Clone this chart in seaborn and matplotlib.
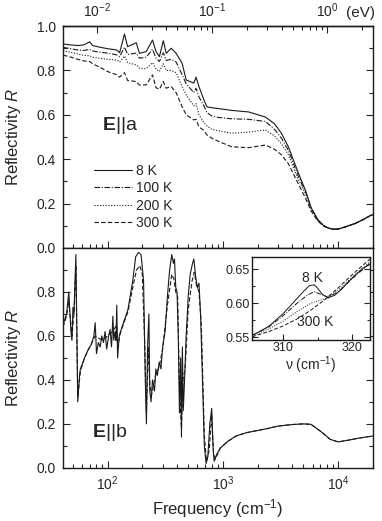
import numpy as np
import matplotlib
matplotlib.use("Agg")
import matplotlib.pyplot as plt
import seaborn as sns
from matplotlib.ticker import LogLocator, MultipleLocator, NullFormatter, FixedLocator

# --- data: E||a (top panel) ---
freq_a = [41, 48, 55, 62, 70, 74, 85, 100, 120, 127, 140, 149, 177, 189, 216, 245,
          263, 281, 304, 322, 356, 393, 443, 480, 560, 585, 620, 685, 726, 800, 920,
          1190, 1670, 2340, 2800, 3220, 3700, 4500, 5200, 5850, 6700, 7500, 8200,
          9000, 10000, 11500, 14000, 16500, 19000, 20000]
r_a_8K = [0.919, 0.915, 0.912, 0.915, 0.929, 0.912, 0.905, 0.898, 0.892, 0.880, 0.964,
          0.907, 0.925, 0.877, 0.885, 0.937, 0.885, 0.862, 0.934, 0.877, 0.900, 0.877,
          0.832, 0.757, 0.743, 0.770, 0.727, 0.667, 0.636, 0.632, 0.628, 0.620, 0.613,
          0.590, 0.560, 0.517, 0.456, 0.340, 0.260, 0.180, 0.126, 0.100, 0.090, 0.085,
          0.085, 0.095, 0.110, 0.128, 0.146, 0.150]
r_a_100K = [0.904, 0.898, 0.892, 0.890, 0.895, 0.888, 0.882, 0.878, 0.870, 0.862, 0.905,
            0.872, 0.878, 0.855, 0.860, 0.895, 0.855, 0.840, 0.880, 0.845, 0.850, 0.838,
            0.780, 0.740, 0.700, 0.720, 0.680, 0.640, 0.610, 0.595, 0.588, 0.582, 0.580,
            0.570, 0.535, 0.495, 0.440, 0.325, 0.255, 0.178, 0.125, 0.100, 0.090, 0.085,
            0.085, 0.095, 0.110, 0.128, 0.146, 0.150]
r_a_200K = [0.888, 0.882, 0.874, 0.868, 0.866, 0.860, 0.855, 0.850, 0.847, 0.838, 0.865,
            0.835, 0.825, 0.810, 0.808, 0.835, 0.805, 0.795, 0.830, 0.800, 0.800, 0.790,
            0.727, 0.690, 0.640, 0.650, 0.600, 0.565, 0.550, 0.535, 0.528, 0.517, 0.522,
            0.532, 0.505, 0.470, 0.420, 0.310, 0.245, 0.175, 0.124, 0.100, 0.090, 0.085,
            0.085, 0.095, 0.110, 0.128, 0.146, 0.150]
r_a_300K = [0.869, 0.860, 0.850, 0.843, 0.840, 0.830, 0.815, 0.795, 0.780, 0.770, 0.790,
            0.755, 0.750, 0.734, 0.735, 0.780, 0.722, 0.715, 0.750, 0.720, 0.727, 0.700,
            0.636, 0.600, 0.577, 0.580, 0.545, 0.530, 0.510, 0.495, 0.480, 0.456, 0.452,
            0.464, 0.445, 0.420, 0.380, 0.290, 0.225, 0.165, 0.120, 0.098, 0.090, 0.085,
            0.085, 0.095, 0.110, 0.128, 0.146, 0.150]

# --- data: E||b (bottom panel) ---
freq_b_8K = [41, 44, 46, 48, 49, 50, 51, 53, 55, 57, 58, 60, 63, 68, 72, 76, 78, 80, 83,
             86, 89, 92, 95, 98, 102, 105, 108, 111, 113, 116, 118, 120, 122, 126, 135,
             150, 165, 175, 185, 195, 205, 212, 217, 222, 228, 232, 238, 245, 255, 262,
             270, 280, 290, 300, 315, 330, 345, 360, 372, 380, 390, 400, 410, 420, 430,
             437, 445, 453, 465, 480, 500, 520, 545, 560, 580, 600, 620, 640, 665, 690,
             715, 740, 770, 800, 820, 840, 880, 950, 1100, 1300, 1600, 2000, 2500, 3000,
             4000, 5000, 5800, 6500, 7500, 8500, 10000, 12000, 15000, 20000]
r_b_8K = [0.65, 0.70, 0.80, 0.62, 0.58, 0.73, 0.70, 0.97, 0.30, 0.42, 0.45, 0.47, 0.50,
          0.54, 0.56, 0.60, 0.66, 0.52, 0.57, 0.55, 0.60, 0.57, 0.62, 0.54, 0.60, 0.63,
          0.55, 0.69, 0.58, 0.62, 0.58, 0.74, 0.50, 0.60, 0.65, 0.72, 0.85, 0.96, 0.98,
          0.97, 0.85, 0.40, 0.20, 0.55, 0.70, 0.35, 0.30, 0.40, 0.35, 0.45, 0.42, 0.48,
          0.45, 0.55, 0.62, 0.78, 0.90, 0.97, 0.93, 0.95, 0.82, 0.80, 0.60, 0.25, 0.50,
          0.14, 0.55, 0.26, 0.40, 0.60, 0.78, 0.88, 0.93, 0.95, 0.87, 0.82, 0.84, 0.70,
          0.40, 0.10, 0.02, 0.05, 0.20, 0.27, 0.10, 0.03, 0.06, 0.09, 0.12, 0.145, 0.16,
          0.17, 0.18, 0.19, 0.197, 0.20, 0.198, 0.18, 0.155, 0.13, 0.118, 0.125, 0.135,
          0.145]
freq_b_300K = [41, 44, 46, 49, 51, 53, 55, 58, 63, 70, 78, 90, 100, 110, 120, 122, 130,
               150, 165, 178, 190, 200, 210, 217, 225, 232, 240, 260, 280, 300, 330, 360,
               375, 390, 405, 420, 437, 450, 470, 500, 540, 565, 590, 620, 650, 690, 720,
               760, 800, 830, 860, 950, 1100, 1300, 1600, 2000, 2500, 3000, 4000, 5000,
               5800, 6500, 7500, 8500, 10000, 12000, 15000, 20000]
r_b_300K = [0.64, 0.69, 0.76, 0.60, 0.70, 0.92, 0.32, 0.44, 0.50, 0.55, 0.60, 0.58, 0.60,
            0.62, 0.65, 0.55, 0.62, 0.71, 0.82, 0.90, 0.92, 0.88, 0.55, 0.25, 0.55, 0.38,
            0.33, 0.42, 0.46, 0.54, 0.74, 0.88, 0.86, 0.80, 0.78, 0.35, 0.18, 0.40, 0.45,
            0.72, 0.85, 0.89, 0.83, 0.80, 0.65, 0.15, 0.03, 0.08, 0.24, 0.06, 0.04, 0.09,
            0.12, 0.145, 0.16, 0.17, 0.18, 0.19, 0.197, 0.20, 0.198, 0.18, 0.155, 0.13,
            0.118, 0.125, 0.135, 0.145]

# --- inset data (E||b, around 315 cm-1) ---
nu_in_8K = [305.5, 307, 308, 309, 310, 311, 312, 313, 313.8, 314.5, 315, 315.7, 316.5,
            317.5, 318.5, 319.5, 320.5, 321.5, 322.6]
r_in_8K = [0.553, 0.561, 0.567, 0.576, 0.585, 0.596, 0.607, 0.618, 0.626, 0.627, 0.622,
           0.613, 0.608, 0.612, 0.621, 0.632, 0.642, 0.651, 0.657]
nu_in_100K = [305.5, 308, 310, 312, 313.5, 314.5, 315.5, 316.5, 318, 320, 322.6]
r_in_100K = [0.553, 0.566, 0.582, 0.600, 0.612, 0.617, 0.613, 0.609, 0.617, 0.636, 0.659]
nu_in_200K = [305.5, 308, 310, 312, 314, 315.5, 316.5, 318, 320, 322.6]
r_in_200K = [0.552, 0.563, 0.574, 0.588, 0.600, 0.605, 0.608, 0.620, 0.638, 0.661]
nu_in_300K = [305.5, 308, 310, 312, 314, 316, 318, 320, 322.6]
r_in_300K = [0.551, 0.559, 0.567, 0.577, 0.590, 0.605, 0.623, 0.642, 0.665]

temps = ["8 K", "100 K", "200 K", "300 K"]
dash_styles = [None, (5, 1.5, 1, 1.5), (1, 1.5), (4, 2)]

sns.set_theme(style="ticks")
plt.rcParams['font.family'] = ['Liberation Sans', 'DejaVu Sans']
plt.rcParams['mathtext.fontset'] = 'custom'
plt.rcParams['mathtext.rm'] = 'Liberation Sans'
plt.rcParams['mathtext.it'] = 'Liberation Sans:italic'
plt.rcParams['mathtext.bf'] = 'Liberation Sans:bold'


def draw(ax, x, y, dash, label=None, lw=0.8):
    sns.lineplot(x=x, y=y, ax=ax, color='k', lw=lw, sort=False, estimator=None,
                 label=label, legend=False)
    line = ax.lines[-1]
    if dash is not None:
        line.set_dashes(dash)
    return line


def style_ticks(ax, size=10):
    ax.tick_params(which='both', direction='in', right=True, labelsize=size,
                   width=0.8, pad=5)
    ax.tick_params(which='major', length=5)
    ax.tick_params(which='minor', length=3)
    for s in ax.spines.values():
        s.set_linewidth(1.0)
        s.set_color('k')


fig = plt.figure(figsize=(3.82, 5.21), dpi=100)
ax1 = fig.add_axes([0.165, 0.524, 0.811, 0.426])
ax2 = fig.add_axes([0.165, 0.102, 0.811, 0.422])

# top panel
series_a = [r_a_8K, r_a_100K, r_a_200K, r_a_300K]
handles = []
for r, lab, d in zip(series_a, temps, dash_styles):
    handles.append(draw(ax1, freq_a, r, d, label=lab))
ax1.set_xscale('log')
ax1.set_xlim(41, 20000)
ax1.set_ylim(0, 1.0)
ax1.yaxis.set_minor_locator(MultipleLocator(0.1))
ax1.xaxis.set_major_locator(LogLocator(base=10))
ax1.xaxis.set_minor_locator(LogLocator(base=10, subs=np.arange(2, 10)))
ax1.xaxis.set_minor_formatter(NullFormatter())
style_ticks(ax1)
ax1.tick_params(labelbottom=False)
ax1.set_yticks([0, 0.2, 0.4, 0.6, 0.8, 1.0], ['0.0', '0.2', '0.4', '0.6', '0.8', '1.0'])
ax1.set_ylabel('Reflectivity $R$', fontsize=12)
ax1.yaxis.set_label_coords(-0.13, 0.5)
ax1.text(0.125, 0.53, r'$\mathbf{E}$||a', transform=ax1.transAxes, fontsize=14,
         ha='left', va='baseline')
ax1.legend(handles=handles, labels=temps, loc='upper left', bbox_to_anchor=(0.10, 0.38),
           frameon=False, fontsize=10, handlelength=2.7, handletextpad=0.3,
           labelspacing=0.25, borderpad=0, borderaxespad=0)

secax = ax1.secondary_xaxis('top', functions=(lambda x: x / 8065.54, lambda e: e * 8065.54))
secax.xaxis.set_major_locator(FixedLocator([0.01, 0.1, 1.0]))
secax.xaxis.set_minor_locator(FixedLocator([m * 10.0 ** k for k in (-2, -1, 0)
                                            for m in range(2, 10) if m * 10.0 ** k < 2.4]))
secax.xaxis.set_minor_formatter(NullFormatter())
secax.tick_params(which='both', direction='in', labelsize=10, width=0.8, pad=4)
secax.tick_params(which='major', length=5)
secax.tick_params(which='minor', length=3)
secax.spines['top'].set_linewidth(1.0)
ax1.text(0.96, 1.06, '(eV)', transform=ax1.transAxes, fontsize=11, ha='center', va='center')

# bottom panel
draw(ax2, freq_b_8K, r_b_8K, None)
draw(ax2, freq_b_300K, r_b_300K, (4, 2))
ax2.set_xscale('log')
ax2.set_xlim(41, 20000)
ax2.set_ylim(0, 1.0)
ax2.set_yticks([0, 0.2, 0.4, 0.6, 0.8], ['0.0', '0.2', '0.4', '0.6', '0.8'])
ax2.yaxis.set_minor_locator(MultipleLocator(0.1))
ax2.xaxis.set_major_locator(LogLocator(base=10))
ax2.xaxis.set_minor_locator(LogLocator(base=10, subs=np.arange(2, 10)))
ax2.xaxis.set_minor_formatter(NullFormatter())
style_ticks(ax2)
ax2.tick_params(top=False)
ax2.set_xlabel('Frequency (cm$^{-1}$)', fontsize=12, labelpad=3)
ax2.set_ylabel('Reflectivity $R$', fontsize=12)
ax2.yaxis.set_label_coords(-0.13, 0.5)
ax2.text(0.095, 0.14, r'$\mathbf{E}$||b', transform=ax2.transAxes, fontsize=14,
         ha='left', va='baseline')

# inset
ax3 = fig.add_axes([0.660, 0.347, 0.309, 0.160])
inset_series = [(nu_in_8K, r_in_8K), (nu_in_100K, r_in_100K),
                (nu_in_200K, r_in_200K), (nu_in_300K, r_in_300K)]
for (x, y), d in zip(inset_series, dash_styles):
    draw(ax3, x, y, d, lw=0.7)
ax3.set_xlim(305.5, 322.6)
ax3.set_ylim(0.546, 0.668)
ax3.set_xticks([310, 320])
ax3.xaxis.set_minor_locator(MultipleLocator(5))
ax3.set_yticks([0.55, 0.60, 0.65], ['0.55', '0.60', '0.65'])
ax3.yaxis.set_minor_locator(MultipleLocator(0.025))
style_ticks(ax3, size=9)
ax3.tick_params(which='both', pad=1.5)
ax3.tick_params(which='major', length=4)
ax3.tick_params(which='minor', length=2)
ax3.set_xlabel('ν (cm$^{-1}$)', fontsize=10, labelpad=0)
ax3.text(314.3, 0.637, '8 K', fontsize=10, ha='center', va='center')
ax3.text(314.7, 0.572, '300 K', fontsize=10, ha='center', va='center')

fig.savefig('out.png', dpi=100)
